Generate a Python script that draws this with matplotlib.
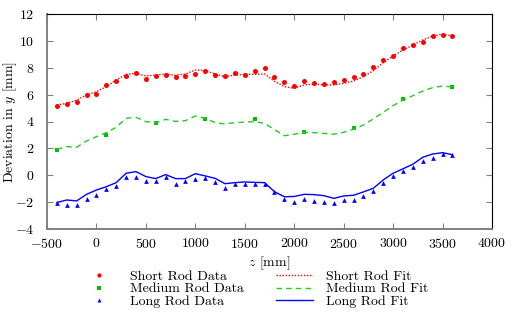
import numpy as np
import matplotlib
matplotlib.use("Agg")
import matplotlib.pyplot as plt

plt.rcParams['font.family'] = 'serif'
plt.rcParams['font.serif'] = ['cmr10']
plt.rcParams['mathtext.fontset'] = 'cm'
plt.rcParams['axes.formatter.use_mathtext'] = True
plt.rcParams['font.size'] = 10

# positions along the rod [mm]
z_fine = np.arange(-400, 3700, 100)
z_medium = [-400, 100, 600, 1100, 1600, 2100, 2600, 3100, 3600]

short_data = [5.15, 5.30, 5.43, 6.00, 6.02, 6.69, 6.99, 7.41, 7.61, 7.19, 7.41,
              7.49, 7.34, 7.41, 7.54, 7.73, 7.49, 7.36, 7.61, 7.49, 7.78, 7.96,
              7.30, 6.93, 6.67, 7.01, 6.87, 6.79, 6.92, 7.07, 7.29, 7.51, 8.03,
              8.58, 8.90, 9.50, 9.72, 9.92, 10.39, 10.46, 10.34]
short_fit = [5.23, 5.35, 5.60, 5.97, 6.22, 6.59, 7.09, 7.51, 7.59, 7.39, 7.46,
             7.54, 7.44, 7.54, 7.83, 7.78, 7.54, 7.34, 7.46, 7.51, 7.51, 7.54,
             7.00, 6.60, 6.47, 6.72, 6.79, 6.72, 6.72, 6.84, 7.01, 7.34, 7.78,
             8.38, 8.88, 9.32, 9.69, 10.07, 10.36, 10.51, 10.36]

medium_data = [1.88, 3.02, 3.86, 4.19, 4.15, 3.24, 3.49, 5.68, 6.56]
medium_fit = [1.93, 2.13, 2.08, 2.55, 2.87, 3.17, 3.57, 4.24, 4.31, 3.99, 3.91,
              4.16, 4.01, 4.06, 4.41, 4.24, 3.91, 3.82, 3.91, 3.96, 3.99, 3.86,
              3.40, 2.94, 3.05, 3.20, 3.17, 3.12, 3.05, 3.20, 3.42, 3.74, 4.19,
              4.68, 5.18, 5.60, 5.92, 6.27, 6.52, 6.64, 6.57]

long_data = [-2.09, -2.21, -2.21, -1.79, -1.44, -1.02, -0.82, -0.10, -0.13, -0.40,
             -0.43, -0.15, -0.63, -0.43, -0.30, -0.18, -0.48, -0.92, -0.67, -0.65,
             -0.65, -0.65, -1.27, -1.79, -1.96, -1.79, -1.94, -1.96, -2.06, -1.86,
             -1.81, -1.56, -1.15, -0.55, -0.03, 0.32, 0.64, 1.06, 1.31, 1.58, 1.53]
long_fit = [-2.03, -1.84, -1.91, -1.42, -1.10, -0.85, -0.55, 0.15, 0.27, -0.10,
            -0.25, 0.05, -0.25, -0.25, 0.12, -0.05, -0.23, -0.63, -0.55, -0.50,
            -0.53, -0.55, -1.22, -1.60, -1.58, -1.42, -1.44, -1.52, -1.72, -1.54,
            -1.49, -1.24, -0.97, -0.35, 0.15, 0.48, 0.82, 1.34, 1.58, 1.68, 1.53]

xticks = [-500, 0, 500, 1000, 1500, 2000, 2500, 3000, 3500, 4000]
yticks = [-4, -2, 0, 2, 4, 6, 8, 10, 12]

fig = plt.figure(figsize=(5.14, 3.15), dpi=100)
ax = fig.add_axes([47/514, 1-229/315, (492-47)/514, (229-14)/315])

red = '#ff0000'
green = '#00c000'
blue = '#0000ff'

h1, = ax.plot(z_fine, short_data, 'o', color=red, ms=3.6, mew=0, ls='none', label='Short Rod Data')
h2, = ax.plot(z_medium, medium_data, 's', color=green, ms=3.5, mew=0, ls='none', label='Medium Rod Data')
h3, = ax.plot(z_fine, long_data, '^', color=blue, ms=3.4, mew=0, ls='none', label='Long Rod Data')
h4, = ax.plot(z_fine, short_fit, color=red, lw=1.0, ls=(0, (1, 1.2)), label='Short Rod Fit')
h5, = ax.plot(z_fine, medium_fit, color='#22cc22', lw=1.0, ls=(0, (4, 3)), label='Medium Rod Fit')
h6, = ax.plot(z_fine, long_fit, color=blue, lw=1.0, ls='-', label='Long Rod Fit')

ax.set_xlim(-500, 4000)
ax.set_ylim(-4, 12)
ax.set_xticks(xticks)
ax.set_yticks(yticks)
ax.set_xlabel('$z$ [mm]', labelpad=3)
ax.set_ylabel('Deviation in $y$ [mm]')
ax.yaxis.set_label_coords(-0.063, 0.5)

ax.tick_params(direction='in', length=4.5, width=0.8, color='#808080',
               top=True, right=True)
ax.tick_params(axis='x', pad=5.5)
ax.tick_params(axis='y', pad=9)
for s in ['left', 'bottom']:
    ax.spines[s].set_color('#808080')
    ax.spines[s].set_linewidth(1.4)
for s in ['top', 'right']:
    ax.spines[s].set_color('black')
    ax.spines[s].set_linewidth(0.8)

fig.legend(handles=[h1, h2, h3, h4, h5, h6], ncol=2, frameon=False,
           loc='upper left', bbox_to_anchor=(80.7/514, 1-270/315),
           borderpad=0, borderaxespad=0, handlelength=2.64, handletextpad=0.91,
           columnspacing=2.35, labelspacing=0.0, markerscale=0.85)

fig.savefig('out.png', dpi=100)
